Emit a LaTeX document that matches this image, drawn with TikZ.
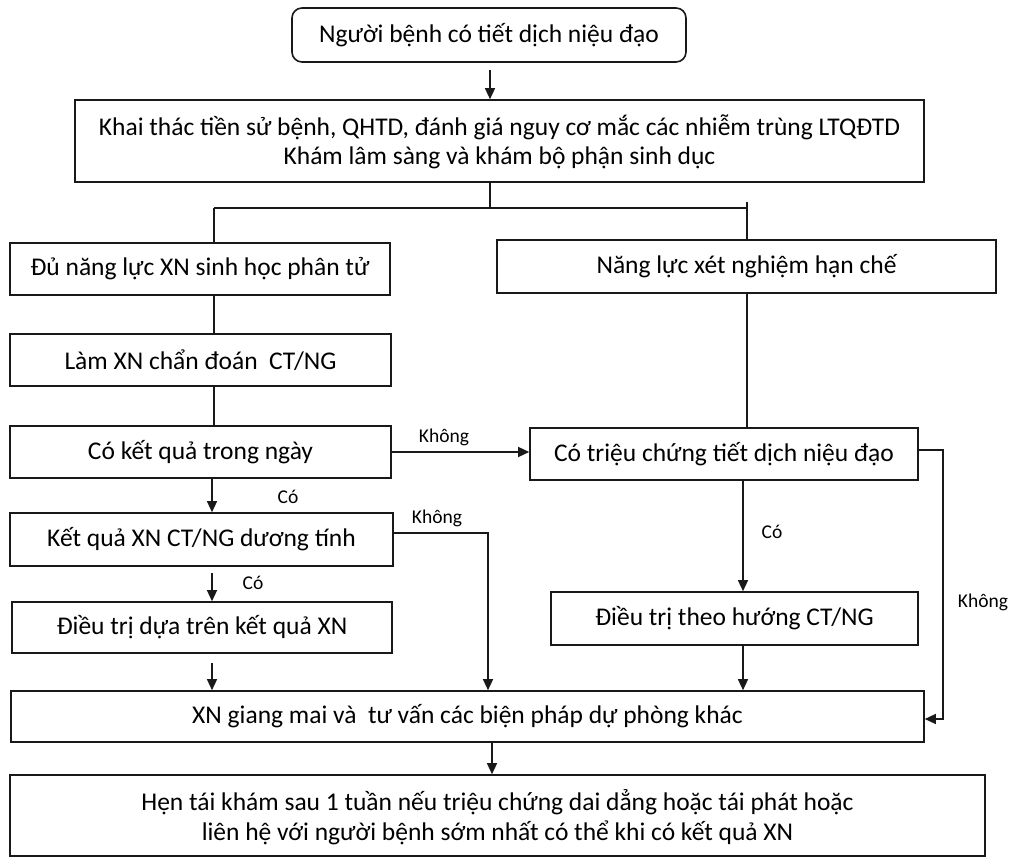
\documentclass[tikz,border=0pt]{standalone}
\usepackage{fontspec}
\setmainfont{Carlito}
\usetikzlibrary{arrows.meta}
\begin{document}
\begin{tikzpicture}[x=1pt,y=-1pt,
  box/.style={draw=black!90, line width=1.6pt, inner sep=0pt, align=center,
    font=\fontsize{25.5}{29.5}\selectfont},
  conn/.style={draw=black!90, line width=1.3pt},
  arr/.style={conn, -{Triangle[length=11pt,width=10pt]}},
  lbl/.style={font=\fontsize{19.5}{22}\selectfont, inner sep=0pt}]
\useasboundingbox (0,0) rectangle (1010,861);
% nodes
\node[box, rounded corners=10pt, minimum width=394pt, minimum height=54pt] (n1) at (489,35) {Người bệnh có tiết dịch niệu đạo};
\node[box, minimum width=849pt, minimum height=82pt] (n2) at (499.5,141) {\rule{0pt}{22pt}Khai thác tiền sử bệnh, QHTD, đánh giá nguy cơ mắc các nhiễm trùng LTQĐTD\\Khám lâm sàng và khám bộ phận sinh dục};
\node[box, minimum width=380pt, minimum height=52pt] (n3) at (200,269) {Đủ năng lực XN sinh học phân tử};
\node[box, minimum width=499pt, minimum height=53pt] (n4) at (746.5,266.5) {Năng lực xét nghiệm hạn chế};
\node[box, minimum width=381pt, minimum height=52pt] (n5) at (200.5,360) {Làm XN chẩn đoán\ \ CT/NG};
\node[box, minimum width=381pt, minimum height=52pt] (n6) at (200.5,452) {Có kết quả trong ngày};
\node[box, minimum width=388pt, minimum height=52pt] (n7) at (724,454) {Có triệu chứng tiết dịch niệu đạo};
\node[box, minimum width=383pt, minimum height=53pt] (n8) at (201.5,539.5) {Kết quả XN CT/NG dương tính};
\node[box, minimum width=380pt, minimum height=51pt] (n9) at (202,627.5) {Điều trị dựa trên kết quả XN};
\node[box, minimum width=367pt, minimum height=53pt] (n11) at (734.5,618.5) {Điều trị theo hướng CT/NG};
\node[box, minimum width=913pt, minimum height=51pt] (n10) at (467.5,716.5) {XN giang mai và\ \ tư vấn các biện pháp dự phòng khác};
\node[box, minimum width=975pt, minimum height=81pt] (n12) at (497.5,815.5) {\rule{0pt}{24pt}Hẹn tái khám sau 1 tuần nếu triệu chứng dai dẳng hoặc tái phát hoặc\\liên hệ với người bệnh sớm nhất có thể khi có kết quả XN};
% helper coordinates
\coordinate (ctop) at (490,0);
\coordinate (sp) at (490,208);
\coordinate (jl) at (214,208);
\coordinate (jr) at (747,208);
\coordinate (cl) at (212,0);
\coordinate (cr) at (743,0);
\coordinate (k2) at (488,533);
\coordinate (k3a) at (943,450);
\coordinate (k3b) at (943,719);
\coordinate (cb) at (492,0);
% connectors
\draw[arr, shorten <=7pt] (n1.south -| ctop) -- (n2.north -| ctop);
\draw[conn] (n2.south -| sp) -- (sp);
\draw[conn, line width=2pt] (jl) -- (jr);
\draw[conn] (jl) -- (jl |- n3.north);
\draw[conn] (jr) ++(0,-6) -- (jr |- n4.north);
\draw[conn] (n3.south -| jl) -- (n5.north -| jl);
\draw[conn] (n5.south -| jl) -- (n6.north -| jl);
\draw[conn] (n4.south -| jr) -- (n7.north -| jr);
\draw[arr] (n6.east) -- (n6.east -| n7.west);
\draw[arr] (n6.south -| cl) -- (n8.north -| cl);
\draw[arr, shorten <=6pt] (n8.south -| cl) -- (n9.north -| cl);
\draw[arr, shorten <=9pt] (n9.south -| cl) -- (n10.north -| cl);
\draw[arr] (n8.east |- k2) -- (k2) -- (k2 |- n10.north);
\draw[arr] (n7.south -| cr) -- (n11.north -| cr);
\draw[arr] (n11.south -| cr) -- (n10.north -| cr);
\draw[arr] (n7.east |- k3a) -- (k3a) -- (k3b) -- (k3b -| n10.east);
\draw[arr] (n10.south -| cb) -- (n12.north -| cb);
% labels
\node[lbl] (l1) at (444,437) {Không};
\node[lbl] (l2) at (288,497) {Có};
\node[lbl] (l3) at (437,518) {Không};
\node[lbl] (l4) at (253,583) {Có};
\node[lbl] (l5) at (772,532) {Có};
\node[lbl] (l6) at (983,602) {Không};
\end{tikzpicture}
\end{document}
